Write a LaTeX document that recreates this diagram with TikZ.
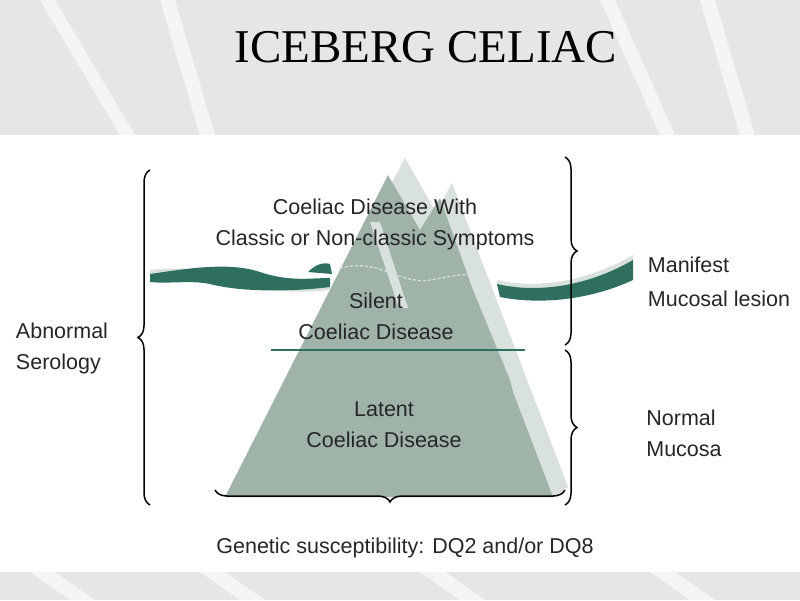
\documentclass[tikz,border=0pt]{standalone}
\usepackage{fontspec}
\setmainfont{Liberation Sans}
\newfontfamily\ttl{Liberation Serif}
\usetikzlibrary{decorations.pathreplacing}
\definecolor{ice}{HTML}{9FB3A9}
\definecolor{icel}{HTML}{D9E1DC}
\definecolor{sea}{HTML}{2F6F5F}
\definecolor{bg}{HTML}{E6E6E6}
\begin{document}
\begin{tikzpicture}[x=1pt,y=-1pt,
  lab/.style={font=\fontsize{21.5}{31}\selectfont,align=center,text=black!85},
  br/.style={decorate,decoration={brace,amplitude=12pt},line width=1.5pt}]
\useasboundingbox (0,0) rectangle (800,600);
\fill[bg] (0,0) rectangle (800,135);
\fill[bg] (0,572) rectangle (800,600);
\foreach \a/\b in {40/120,160/200,600/660,700/740}{
  \fill[white,opacity=0.6] (\a,0) -- (\a+15,0) -- (\b+15,135) -- (\b,135) -- cycle;}
\foreach \a in {30,200,420,650}{
  \fill[white,opacity=0.6] (\a,572) -- (\a+25,572) -- (\a+65,600) -- (\a+40,600) -- cycle;}
\node[font=\ttl\fontsize{47}{50}\selectfont] (title) at (426,47) {ICEBERG CELIAC};
% iceberg
\fill[icel] (405,158) -- (436,212) -- (452,183) -- (568,487) -- (555,497) -- (225,497) -- cycle;
\fill[ice] (225,497) -- (388,175) -- (420,230) -- (440,198) -- (473,290) -- (510,380) -- (513,392) -- (553,497) -- cycle;
\fill[icel] (370,222) -- (380,222) -- (408,308) -- (399,308) -- cycle;
% water
\fill[icel] (150,270) .. controls (220,262) and (250,290) .. (330,282) -- (330,290) .. controls (250,298) and (220,272) .. (150,280) -- cycle;
\fill[sea] (150,274) .. controls (190,268) and (230,262) .. (260,272) .. controls (290,282) and (310,278) .. (330,278)
  -- (330,287) .. controls (290,292) and (240,292) .. (210,284) .. controls (190,280) and (170,284) .. (150,282) -- cycle;
\fill[sea] (308,272) .. controls (315,265) and (322,262) .. (330,264) -- (332,274) -- cycle;
\fill[icel] (497,280) .. controls (540,290) and (590,280) .. (633,255) -- (633,262) .. controls (590,287) and (540,296) .. (497,286) -- cycle;
\fill[sea] (497,284) .. controls (540,294) and (590,285) .. (633,260) -- (633,280) .. controls (590,300) and (540,305) .. (500,297) -- cycle;
\draw[icel,line width=1.3pt,dash pattern=on 3pt off 2pt] (340,268) .. controls (380,258) and (400,285) .. (430,280) .. controls (455,276) and (465,272) .. (483,277);
\draw[sea,line width=1.8pt] (271,350) -- (525,350);
% braces
\draw[br] (150,505) -- (150,170);
\draw[br] (565,157) -- (565,345);
\draw[br] (565,350) -- (565,505);
\draw[br] (565,490) -- (215,490);
% labels
\node[lab] (top) at (375,224) {Coeliac Disease With\\Classic or Non-classic Symptoms};
\node[lab] (sil) at (376,316) {Silent\\Coeliac Disease};
\node[lab] (lat) at (384,425) {Latent\\Coeliac Disease};
\node[lab,align=left] (abn) at (62,348) {Abnormal\\Serology};
\node[lab,align=left,font=\fontsize{21.5}{34}\selectfont] (man) at (719,282) {Manifest\\Mucosal lesion};
\node[lab,align=left] (nor) at (684,433) {Normal\\Mucosa};
\node[lab] (gen) at (405,548) {Genetic susceptibility: DQ2 and/or DQ8};
\end{tikzpicture}
\end{document}
